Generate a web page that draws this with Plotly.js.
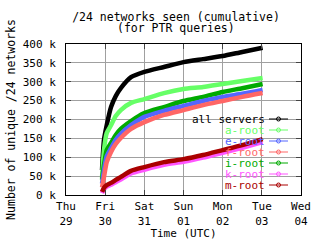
<!DOCTYPE html>
<html><head><meta charset="utf-8">
<script src="https://cdn.plot.ly/plotly-3.0.1.min.js"></script>
<style>html,body{margin:0;padding:0;background:#fff}#c{width:320px;height:240px}</style>
</head><body><div id="c"></div>
<script>
// time in days since Thu 29 00:00 UTC
const days = [0.92, 0.97, 1.04, 1.15, 1.27, 1.40, 1.66, 2.00, 2.50, 3.00, 3.50, 4.00, 4.50, 5.02];
// values in thousands of /24 networks
const allServers = [66, 146, 185, 233, 262, 283, 312, 326, 339, 352, 360, 368, 379, 390];
const aRoot = [45, 119, 164, 185, 209, 225, 244, 254, 270, 281, 286, 294, 302, 310];
const eRoot = [30, 66, 103, 124, 146, 162, 185, 207, 223, 236, 249, 260, 268, 278];
const fRoot = [20, 48, 87, 114, 135, 151, 175, 193, 212, 225, 238, 249, 260, 270];
const iRoot = [40, 79, 119, 138, 159, 175, 196, 217, 233, 249, 260, 273, 283, 294];
const kRoot = [5, 15, 22, 27, 34, 41, 57, 67, 80, 88, 99, 112, 125, 140];
const mRoot = [8, 19, 26, 32, 40, 48, 64, 74, 87, 95, 106, 119, 132, 148];

const xTickVals = [0, 1, 2, 3, 4, 5, 6];
const xTickText = ["Thu<br>29", "Fri<br>30", "Sat<br>31", "Sun<br>01", "Mon<br>02", "Tue<br>03", "Wed<br>04"];
const yTickVals = [0, 50, 100, 150, 200, 250, 300, 350, 400];
const yTickText = ["0 k", "50 k", "100 k", "150 k", "200 k", "250 k", "300 k", "350 k", "400 k"];

const series = [
  {name: "all servers", y: allServers, color: "#000000"},
  {name: "a-root", y: aRoot, color: "#66ff66"},
  {name: "e-root", y: eRoot, color: "#5566ff"},
  {name: "f-root", y: fRoot, color: "#ff6666"},
  {name: "i-root", y: iRoot, color: "#00aa00"},
  {name: "k-root", y: kRoot, color: "#ff55ff"},
  {name: "m-root", y: mRoot, color: "#aa0000"}
];
const order = [0, 1, 4, 2, 3, 5, 6];
const traces = order.map(i => ({
  x: days, y: series[i].y, type: "scatter", mode: "lines",
  line: {color: series[i].color, width: 4.5, shape: "spline", smoothing: 0.6},
  name: series[i].name, showlegend: false, hoverinfo: "skip"
}));

const font = {family: "DejaVu Sans Mono, monospace", size: 11, color: "#000"};
const annotations = [];
const shapes = [];
const plotL = 66, plotR = 301, plotT = 44, plotB = 195;
const px = x => (x - plotL) / (plotR - plotL);
const py = y => (plotB - y) / (plotB - plotT);
series.forEach((s, i) => {
  const yy = 119 + i * 11;
  annotations.push({xref: "paper", yref: "paper", x: px(266), y: py(yy), xanchor: "right", yanchor: "middle",
    text: s.name, showarrow: false, borderpad: 0, font: Object.assign({}, font, {color: s.color, size: 11})});
  shapes.push({type: "line", xref: "paper", yref: "paper", x0: px(269), x1: px(288), y0: py(yy), y1: py(yy),
    line: {color: s.color, width: 1}});
  shapes.push({type: "circle", xref: "paper", yref: "paper", x0: px(276.5), x1: px(280.5), y0: py(yy - 2), y1: py(yy + 2),
    line: {color: s.color, width: 1}, fillcolor: "rgba(0,0,0,0)"});
});
// second title line
annotations.push({xref: "paper", yref: "paper", x: px(176), y: py(27.5), xanchor: "center", yanchor: "middle",
  text: "(for PTR queries)", showarrow: false, font: Object.assign({}, font, {size: 11.5})});

const layout = {
  width: 320, height: 240,
  margin: {l: 66, r: 19, t: 44, b: 45},
  paper_bgcolor: "#fff", plot_bgcolor: "#fff",
  font: font,
  showlegend: false,
  title: {text: "/24 networks seen (cumulative)", font: Object.assign({}, font, {size: 11.5}),
    x: 176 / 320, xanchor: "center", xref: "container", y: 1 - 16.5 / 240, yanchor: "middle", yref: "container"},
  xaxis: {range: [0, 6], tickvals: xTickVals, ticktext: xTickText, ticks: "inside", ticklen: 5,
    showline: true, linecolor: "#000", linewidth: 1, mirror: "ticks", showgrid: true, gridcolor: "#a0a0a0",
    zeroline: false, tickfont: font, ticklabelstandoff: 1,
    title: {text: "Time (UTC)", font: font, standoff: 1}},
  yaxis: {range: [0, 400], tickvals: yTickVals, ticktext: yTickText, ticks: "inside", ticklen: 5,
    showline: true, linecolor: "#000", linewidth: 1, mirror: "ticks", showgrid: true, gridcolor: "#a0a0a0",
    zeroline: false, tickfont: font, ticklabelstandoff: 7,
    title: {text: "Number of unique /24 networks", font: Object.assign({}, font, {size: 11.5}), standoff: 4}},
  annotations: annotations,
  shapes: shapes
};
Plotly.newPlot("c", traces, layout, {staticPlot: true, displayModeBar: false});
</script>
</body></html>
